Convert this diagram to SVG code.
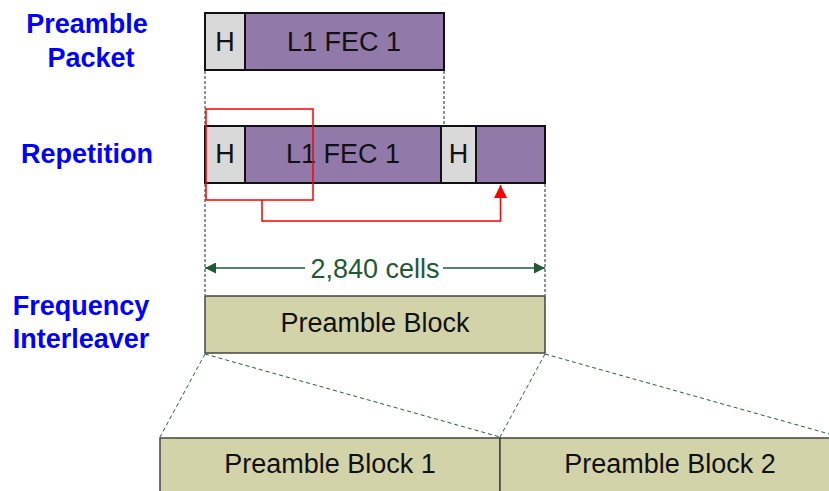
<svg xmlns="http://www.w3.org/2000/svg" width="829" height="491" viewBox="0 0 829 491">
<defs>
<style>
.lbl{font-family:"Liberation Sans",Arial,sans-serif;font-weight:bold;font-size:27px;fill:#0000ff;text-anchor:middle}
.t{font-family:"Liberation Sans",Arial,sans-serif;font-size:27px;fill:#111;text-anchor:middle}
.h{fill:#d9d9d9;stroke:#111;stroke-width:2}
.p{fill:#9179aa;stroke:#111;stroke-width:2}
.pb{fill:#d3d3aa;stroke:#444;stroke-width:1.5}
.vd{stroke:#222;stroke-width:1;stroke-dasharray:3,2;fill:none}
.gd{stroke:#2a5e3e;stroke-width:1;stroke-dasharray:4,3;fill:none}
.red{stroke:#ff0000;stroke-width:1.5;fill:none}
.dim{stroke:#1f5a34;stroke-width:1.5;fill:none}
</style>
<marker id="gArrow" viewBox="0 0 10 10" refX="10" refY="5" markerWidth="17" markerHeight="11" markerUnits="userSpaceOnUse" orient="auto">
<path d="M0,0 L10,5 L0,10 Z" fill="#1f5a34"/>
</marker>
<marker id="rArrow" viewBox="0 0 10 10" refX="10" refY="5" markerWidth="17" markerHeight="13" markerUnits="userSpaceOnUse" orient="auto">
<path d="M0,0 L10,5 L0,10 Z" fill="#ff0000"/>
</marker>
</defs>
<rect width="829" height="491" fill="#ffffff"/>

<g id="labels">
<text class="lbl" x="87" y="33">Preamble</text>
<text class="lbl" x="91" y="67">Packet</text>
<text class="lbl" x="87" y="163">Repetition</text>
<text class="lbl" x="81" y="315">Frequency</text>
<text class="lbl" x="81" y="348">Interleaver</text>
</g>

<g id="preamble-packet">
<rect class="h" x="205" y="13" width="40" height="57"/>
<rect class="p" x="245" y="13" width="199" height="57"/>
<text class="t" x="225" y="51">H</text>
<text class="t" x="344" y="51">L1 FEC 1</text>
</g>

<g id="repetition">
<rect class="h" x="205" y="126" width="40" height="57"/>
<rect class="p" x="245" y="126" width="196" height="57"/>
<rect class="h" x="441" y="126" width="35" height="57"/>
<rect class="p" x="476" y="126" width="69" height="57"/>
<text class="t" x="225" y="163">H</text>
<text class="t" x="343" y="163">L1 FEC 1</text>
<text class="t" x="458.5" y="163">H</text>
</g>

<g id="preamble-block">
<rect class="pb" x="205" y="296" width="340" height="57"/>
<text class="t" x="375" y="332">Preamble Block</text>
</g>

<g id="preamble-block-1">
<rect class="pb" x="160" y="438" width="340" height="60"/>
<text class="t" x="330" y="473">Preamble Block 1</text>
</g>

<g id="preamble-block-2">
<rect class="pb" x="500" y="438" width="340" height="60"/>
<text class="t" x="670" y="473">Preamble Block 2</text>
</g>

<g id="connectors">
<line class="vd" x1="205" y1="71" x2="205" y2="125"/>
<line class="vd" x1="444" y1="71" x2="444" y2="125"/>
<line class="vd" x1="205" y1="184" x2="205" y2="295"/>
<line class="vd" x1="545" y1="184" x2="545" y2="295"/>
<line class="gd" x1="205" y1="354" x2="160" y2="437"/>
<line class="gd" x1="205" y1="354" x2="500" y2="437"/>
<line class="gd" x1="545" y1="354" x2="500" y2="437"/>
<line class="gd" x1="545" y1="354" x2="840" y2="437"/>
<rect class="red" x="206" y="109" width="107" height="91"/>
<polyline class="red" points="262,200 262,221 500.5,221 500.5,185" marker-end="url(#rArrow)"/>
<line class="dim" x1="305" y1="268" x2="205" y2="268" marker-end="url(#gArrow)"/>
<line class="dim" x1="443" y1="268" x2="545" y2="268" marker-end="url(#gArrow)"/>
<text x="375" y="278" font-family="Liberation Sans, Arial, sans-serif" font-size="27" fill="#1f5a34" text-anchor="middle">2,840 cells</text>
</g>
</svg>
